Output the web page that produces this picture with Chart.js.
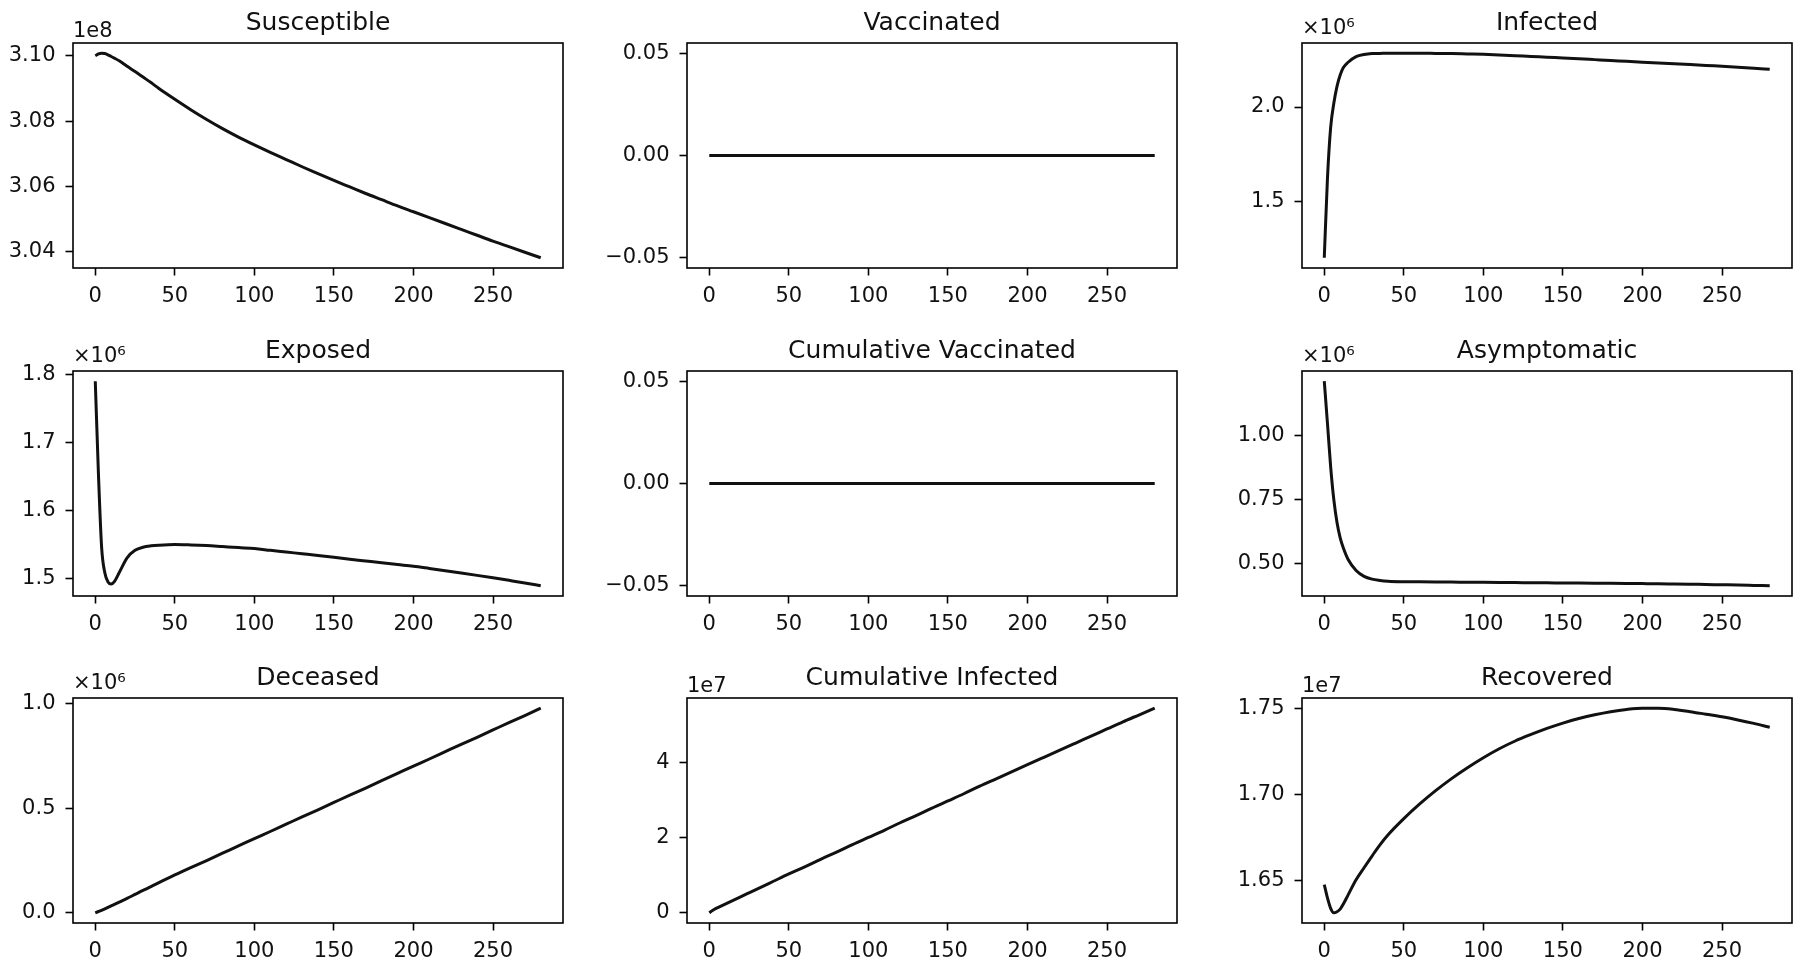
<!DOCTYPE html>
<html>
<head>
<meta charset="utf-8">
<title>Compartment curves</title>
<script src="https://cdn.jsdelivr.net/npm/chart.js@4.4.1/dist/chart.umd.min.js"></script>
<style>
  html, body { margin: 0; padding: 0; background: #fff; }
  #grid { position: relative; width: 1800px; height: 968px; overflow: hidden; background: #fff; }
  #grid canvas { position: absolute; }
</style>
</head>
<body>
<div id="grid"></div>
<script>
// days on the x axis
const days = [0, 2, 4, 6, 8, 10, 12, 15, 20, 25, 30, 35, 40,
  50, 60, 70, 80, 90, 100, 110, 120, 130, 140, 150, 160, 170, 180, 190,
  200, 210, 220, 230, 240, 250, 260, 270, 280];
const xTicks = [0, 50, 100, 150, 200, 250];

// series values (in units of the offset shown above each axis)
const susceptible = [3.1000, 3.1006, 3.1008, 3.1007, 3.1003, 3.0998, 3.0993, 3.0985, 3.0968, 3.0952, 3.0935, 3.0918, 3.0900,
  3.0867, 3.0835, 3.0805, 3.0777, 3.0751, 3.0727, 3.0704, 3.0682, 3.0660, 3.0639, 3.0618, 3.0598, 3.0578, 3.0559, 3.0540,
  3.0522, 3.0504, 3.0486, 3.0468, 3.0450, 3.0432, 3.0415, 3.0398, 3.0381];
const vaccinated = [0, 0, 0, 0, 0, 0, 0, 0, 0, 0, 0, 0, 0,
  0, 0, 0, 0, 0, 0, 0, 0, 0, 0, 0, 0, 0, 0, 0,
  0, 0, 0, 0, 0, 0, 0, 0, 0];
const infected = [1.199, 1.62, 1.89, 2.02, 2.11, 2.17, 2.21, 2.238, 2.268, 2.279, 2.284, 2.285, 2.286,
  2.286, 2.286, 2.285, 2.284, 2.282, 2.280, 2.277, 2.273, 2.269, 2.265, 2.261, 2.257, 2.252, 2.247, 2.243,
  2.238, 2.234, 2.230, 2.226, 2.221, 2.217, 2.212, 2.206, 2.201];
const exposed = [1.790, 1.653, 1.545, 1.508, 1.4945, 1.4915, 1.495, 1.508, 1.530, 1.541, 1.5456, 1.5476, 1.5486,
  1.5496, 1.549, 1.548, 1.5465, 1.545, 1.5436, 1.541, 1.5385, 1.536, 1.5335, 1.5308, 1.528, 1.5253, 1.5226, 1.520,
  1.5175, 1.5143, 1.5110, 1.5076, 1.5041, 1.5005, 1.4968, 1.4930, 1.4888];
const cumVaccinated = [0, 0, 0, 0, 0, 0, 0, 0, 0, 0, 0, 0, 0,
  0, 0, 0, 0, 0, 0, 0, 0, 0, 0, 0, 0, 0, 0, 0,
  0, 0, 0, 0, 0, 0, 0, 0, 0];
const asymptomatic = [1.215, 1.05, 0.88, 0.75, 0.66, 0.60, 0.56, 0.515, 0.472, 0.449, 0.438, 0.433, 0.430,
  0.428, 0.4275, 0.427, 0.4265, 0.426, 0.4255, 0.425, 0.4245, 0.424, 0.4235, 0.423, 0.4225, 0.422, 0.4215, 0.421,
  0.4205, 0.420, 0.419, 0.418, 0.417, 0.416, 0.415, 0.4135, 0.412];
const deceased = [0, 0.006, 0.012, 0.019, 0.026, 0.033, 0.040, 0.051, 0.069, 0.088, 0.107, 0.125, 0.144,
  0.181, 0.216, 0.250, 0.285, 0.320, 0.355, 0.389, 0.424, 0.459, 0.493, 0.528, 0.563, 0.597, 0.632, 0.667,
  0.702, 0.736, 0.771, 0.806, 0.840, 0.875, 0.910, 0.944, 0.979];
const cumInfected = [0, 0.06, 0.11, 0.15, 0.19, 0.23, 0.27, 0.33, 0.43, 0.53, 0.63, 0.73, 0.83,
  1.03, 1.22, 1.42, 1.61, 1.81, 2.00, 2.19, 2.39, 2.58, 2.78, 2.97, 3.16, 3.36, 3.55, 3.74,
  3.93, 4.12, 4.31, 4.50, 4.69, 4.88, 5.07, 5.25, 5.43];
const recovered = [1.6477, 1.640, 1.6340, 1.6314, 1.6320, 1.6335, 1.6365, 1.6418, 1.6505, 1.6575, 1.6643, 1.6708, 1.6765,
  1.6860, 1.6945, 1.7022, 1.7092, 1.7155, 1.7213, 1.7265, 1.7310, 1.7348, 1.7383, 1.7414, 1.7440, 1.7462, 1.7480, 1.7493,
  1.7500, 1.7500, 1.7493, 1.7480, 1.7465, 1.7450, 1.7432, 1.7412, 1.7390];

// y tick labels
const susceptibleTicks = [3.04, 3.06, 3.08, 3.10];
const vaccinatedTicks = [-0.05, 0, 0.05];
const infectedTicks = [1.5, 2.0];
const exposedTicks = [1.5, 1.6, 1.7, 1.8];
const asymptomaticTicks = [0.5, 0.75, 1.0];
const deceasedTicks = [0, 0.5, 1.0];
const cumInfectedTicks = [0, 2, 4];
const recoveredTicks = [1.65, 1.70, 1.75];

const panels = [
  { title: 'Susceptible', offset: '1e8', values: susceptible, ticks: susceptibleTicks, digits: 2 },
  { title: 'Vaccinated', offset: '', values: vaccinated, ticks: vaccinatedTicks, digits: 2 },
  { title: 'Infected', offset: '×10⁶', values: infected, ticks: infectedTicks, digits: 1 },
  { title: 'Exposed', offset: '×10⁶', values: exposed, ticks: exposedTicks, digits: 1 },
  { title: 'Cumulative Vaccinated', offset: '', values: cumVaccinated, ticks: vaccinatedTicks, digits: 2 },
  { title: 'Asymptomatic', offset: '×10⁶', values: asymptomatic, ticks: asymptomaticTicks, digits: 2 },
  { title: 'Deceased', offset: '×10⁶', values: deceased, ticks: deceasedTicks, digits: 1 },
  { title: 'Cumulative Infected', offset: '1e7', values: cumInfected, ticks: cumInfectedTicks, digits: 0 },
  { title: 'Recovered', offset: '1e7', values: recovered, ticks: recoveredTicks, digits: 2 }
];

Chart.defaults.font.family = "'DejaVu Sans', sans-serif";
Chart.defaults.font.size = 21;
Chart.defaults.color = '#111';

// matplotlib style 5% margins
function paddedRange(values) {
  let lo = Math.min(...values);
  let hi = Math.max(...values);
  if (lo === hi) { lo -= 0.05; hi += 0.05; }
  const pad = (hi - lo) * 0.05;
  return [lo - pad, hi + pad];
}

const panelText = {
  id: 'panelText',
  afterDraw: (chart, args, opts) => {
    const ctx = chart.ctx;
    const a = chart.chartArea;
    ctx.save();
    ctx.strokeStyle = '#000';
    ctx.lineWidth = 1.6;
    ctx.strokeRect(a.left, a.top, a.right - a.left, a.bottom - a.top);
    ctx.fillStyle = '#111';
    ctx.textBaseline = 'alphabetic';
    ctx.textAlign = 'center';
    ctx.font = "25px 'DejaVu Sans'";
    ctx.fillText(opts.title, (a.left + a.right) / 2, a.top - 13);
    if (opts.offset) {
      ctx.textAlign = 'left';
      ctx.font = "21px 'DejaVu Sans'";
      ctx.fillText(opts.offset, a.left, a.top - (opts.offset.startsWith('×') ? 9 : 6));
    }
    ctx.restore();
  }
};

const colLeft = [73, 687, 1302];
const rowTop = [43, 371, 698];
const plotW = 490, plotH = 225;
const axisW = 90, padTop = 45, padRight = 8, axisH = 42;
const grid = document.getElementById('grid');

panels.forEach((p, i) => {
  const canvas = document.createElement('canvas');
  const w = axisW + plotW + padRight;
  const h = padTop + plotH + axisH;
  canvas.width = w;
  canvas.height = h;
  canvas.style.width = w + 'px';
  canvas.style.height = h + 'px';
  canvas.style.left = (colLeft[i % 3] - axisW) + 'px';
  canvas.style.top = (rowTop[Math.floor(i / 3)] - padTop) + 'px';
  grid.appendChild(canvas);

  const [yMin, yMax] = paddedRange(p.values);
  const tickGrid = {
    drawOnChartArea: false,
    drawTicks: true,
    tickLength: 7.5,
    tickColor: '#000',
    tickWidth: 1.6
  };

  new Chart(canvas, {
    type: 'line',
    data: {
      datasets: [{
        data: days.map((d, k) => ({ x: d, y: p.values[k] })),
        borderColor: '#111',
        borderWidth: 3,
        pointRadius: 0,
        fill: false,
        cubicInterpolationMode: 'monotone'
      }]
    },
    options: {
      responsive: false,
      animation: false,
      devicePixelRatio: 1,
      layout: { padding: { top: padTop, right: padRight, left: 0, bottom: 0 } },
      plugins: {
        legend: { display: false },
        tooltip: { enabled: false },
        panelText: { title: p.title, offset: p.offset }
      },
      scales: {
        x: {
          type: 'linear',
          min: -14,
          max: 294,
          afterBuildTicks: scale => { scale.ticks = xTicks.map(v => ({ value: v })); },
          afterFit: scale => { scale.height = axisH; },
          grid: tickGrid,
          border: { display: false },
          ticks: { padding: 8, maxRotation: 0, autoSkip: false, callback: v => String(v) }
        },
        y: {
          type: 'linear',
          min: yMin,
          max: yMax,
          afterBuildTicks: scale => { scale.ticks = p.ticks.map(v => ({ value: v })); },
          afterFit: scale => { scale.width = axisW; },
          grid: tickGrid,
          border: { display: false },
          ticks: {
            padding: 10,
            autoSkip: false,
            callback: v => v.toFixed(p.digits).replace('-', '\u2212')
          }
        }
      }
    },
    plugins: [panelText]
  });
});
</script>
</body>
</html>
